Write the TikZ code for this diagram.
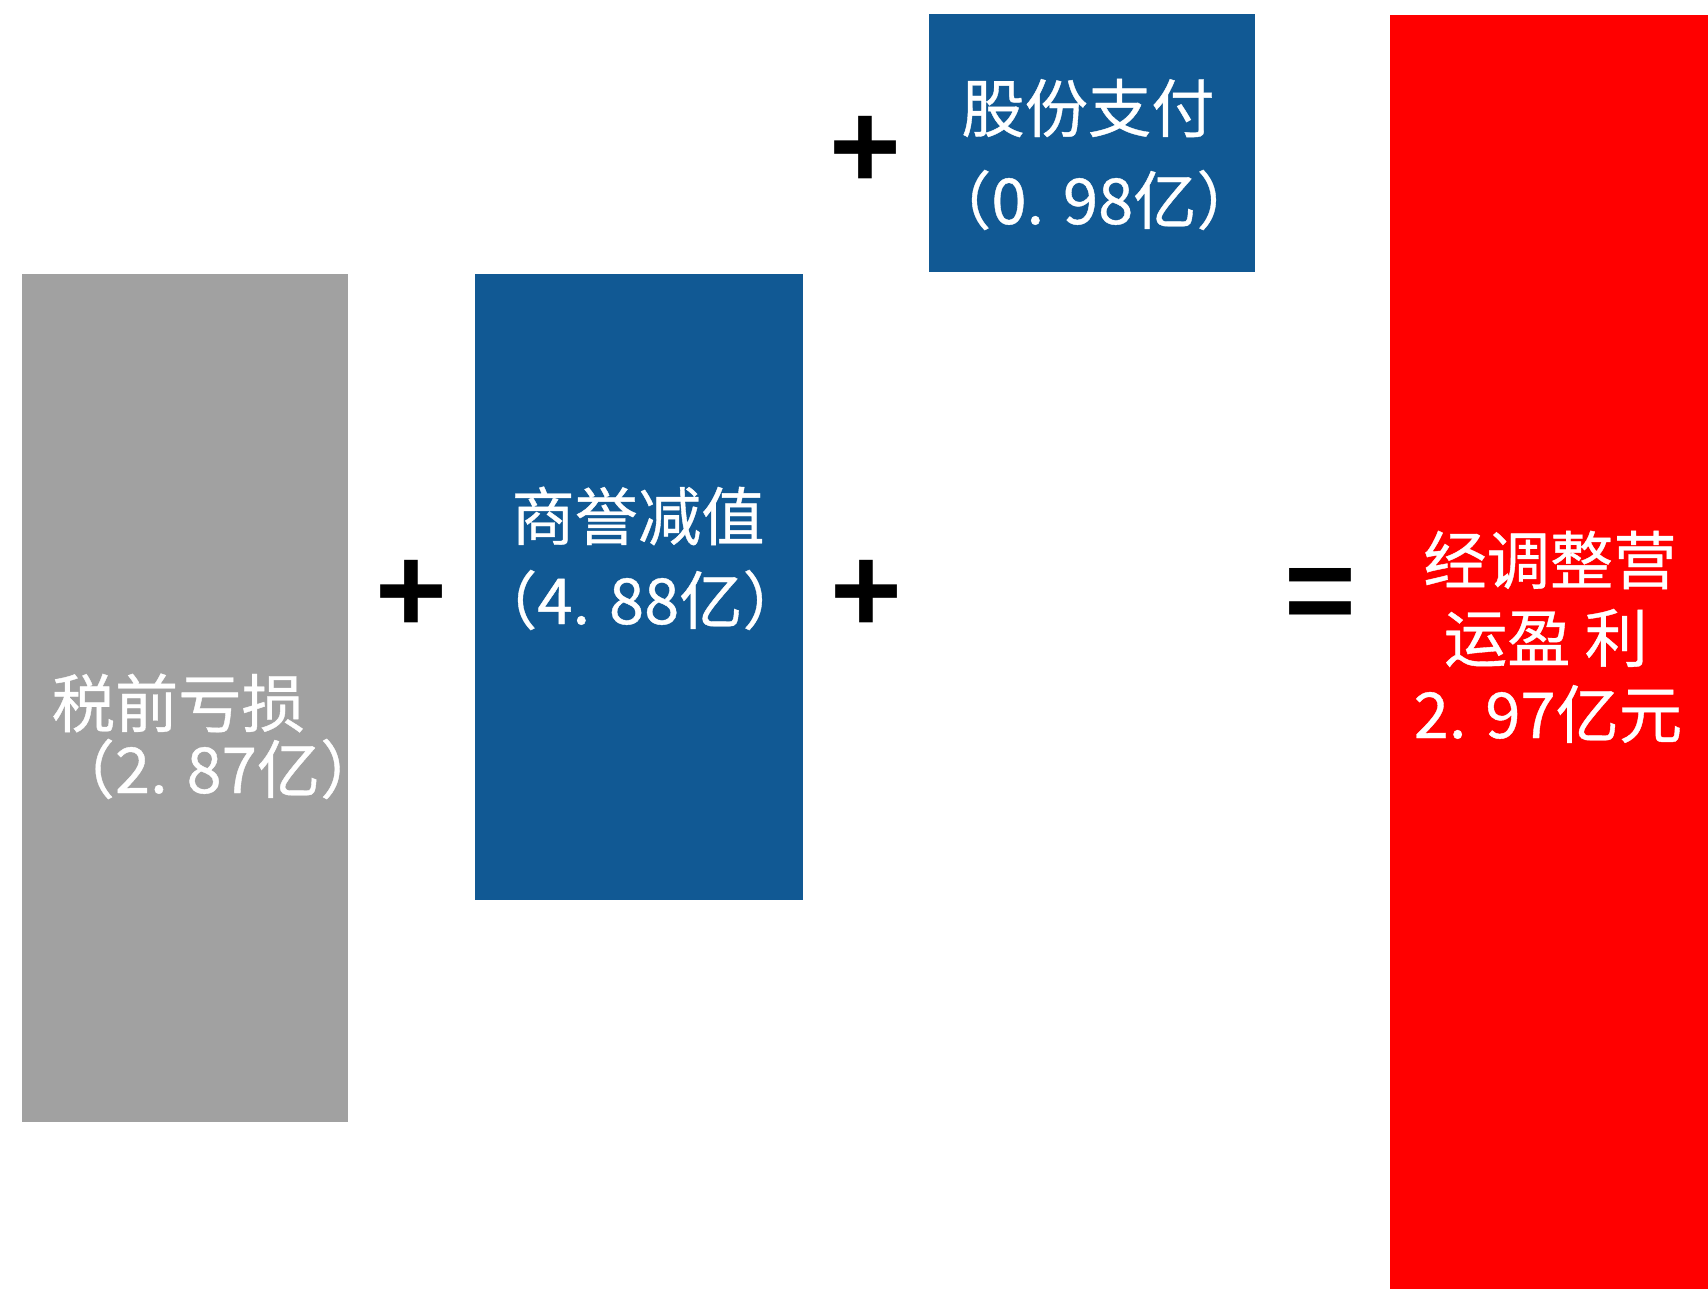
\documentclass[tikz,border=0pt]{standalone}
\usepackage{fontspec}
\setmainfont{Noto Sans CJK SC}[FakeBold=0.6]
\newfontfamily\opfont{Liberation Sans}
\usepackage{xcolor}
\usepackage{tikz}
\definecolor{lossgray}{RGB}{161,161,161}
\definecolor{barblue}{RGB}{17,89,148}
\definecolor{barred}{RGB}{255,0,0}

\begin{document}
\begin{tikzpicture}[x=0.01cm, y=-0.01cm,
    bar/.style={draw=none, inner sep=0pt, outer sep=0pt},
    lbl/.style={text=white, inner sep=0pt, font=\fontsize{18}{20}\selectfont},
    op/.style={inner sep=0pt, font=\opfont\bfseries\fontsize{35}{36}\selectfont}]
        \useasboundingbox (0,0) rectangle (1708,1289);
        \node[bar, fill=lossgray, minimum width=3.26cm, minimum height=8.48cm] (loss) at (185,698) {};
        \node[bar, fill=barblue, minimum width=3.28cm, minimum height=6.26cm] (goodwill) at (639,587) {};
        \node[bar, fill=barblue, minimum width=3.25cm, minimum height=2.57cm] (share) at (1092,143) {};
        \node[bar, fill=barred, minimum width=3.18cm, minimum height=12.73cm] (profit) at (1549,652) {};
        \node[lbl, anchor=west] (loss1) at (51,703) {税前亏损};
        \node[lbl, anchor=west] (loss2) at (51,769) {（2. 87亿）};
        \node[lbl] (goodwill1) at (638,516) {商誉减值};
        \node[lbl] (goodwill2) at (640,600) {（4. 88亿）};
        \node[lbl] (share1) at (1088,108) {股份支付};
        \node[lbl] (share2) at (1094,200) {（0. 98亿）};
        \node[lbl] (profit1) at (1550,560) {经调整营};
        \node[lbl] (profit2) at (1546,638) {运盈 利};
        \node[lbl] (profit3) at (1548,714) {2. 97亿元};
        \node[op] (plusA) at (411,596) {+};
        \node[op] (plusB) at (866,596) {+};
        \node[op] (plusC) at (865,152) {+};
        \node[op] (equal) at (1320,601) {=};
  \end{tikzpicture}
\end{document}
